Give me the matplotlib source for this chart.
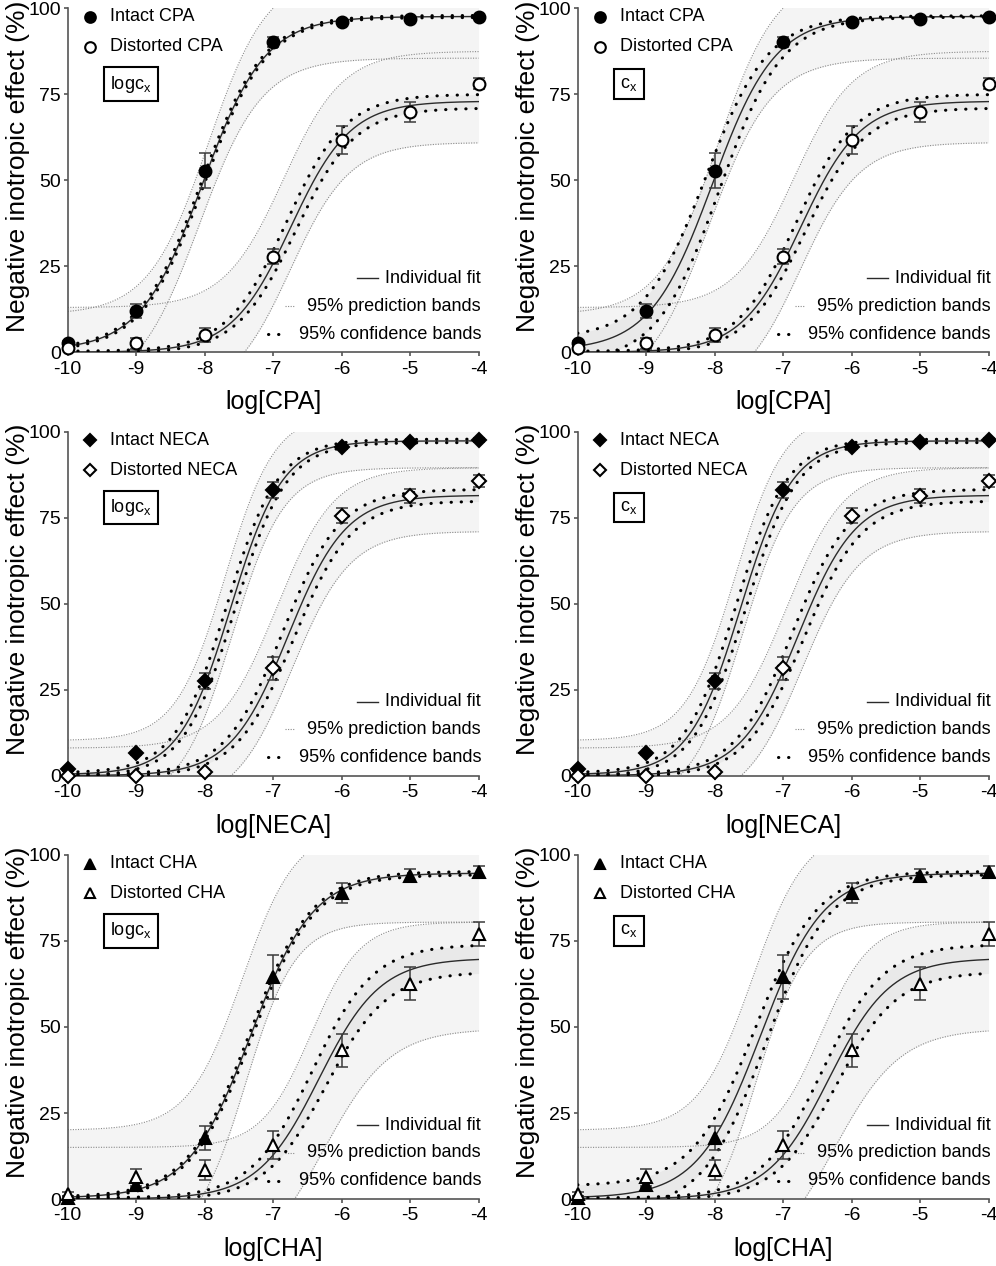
import numpy as np
import matplotlib
matplotlib.use('Agg')
import matplotlib.pyplot as plt

plt.rcParams['font.family'] = 'Liberation Sans'
plt.rcParams['axes.unicode_minus'] = False
plt.rcParams['mathtext.fontset'] = 'custom'
plt.rcParams['mathtext.rm'] = 'Liberation Sans'

# concentrations (log M)
log_conc = [-10, -9, -8, -7, -6, -5, -4]

# mean effect and error
cpa_intact = [2.8, 12.0, 52.8, 90.2, 95.9, 96.8, 97.5]
cpa_intact_err = [0.5, 2.1, 5.0, 1.5, 0.6, 0.6, 0.6]
cpa_dist = [1.4, 2.6, 5.0, 27.8, 61.7, 69.9, 78.1]
cpa_dist_err = [0.5, 1.5, 2.1, 2.1, 4.0, 2.9, 1.7]

neca_intact = [1.9, 6.5, 27.4, 83.1, 95.5, 96.9, 97.5]
neca_intact_err = [0.4, 0.5, 2.3, 2.3, 0.6, 0.5, 0.5]
neca_dist = [0.0, 0.0, 1.0, 31.2, 75.6, 81.2, 85.7]
neca_dist_err = [0.3, 0.3, 0.4, 3.4, 2.2, 2.0, 1.7]

cha_intact = [0.4, 4.1, 17.7, 64.5, 88.9, 94.0, 95.1]
cha_intact_err = [0.5, 1.0, 3.4, 6.3, 2.8, 1.8, 1.8]
cha_dist = [1.5, 6.3, 8.4, 15.7, 43.2, 62.6, 77.0]
cha_dist_err = [0.6, 2.4, 2.8, 4.1, 4.9, 4.9, 3.6]

# fitted curves: bottom, top, logEC50, hill slope
cpa_intact_fit = [0.5, 97.6, -8.03, 0.95]
cpa_dist_fit = [0.0, 73.0, -6.74, 1.0]
neca_intact_fit = [0.3, 97.3, -7.62, 1.15]
neca_dist_fit = [0.0, 81.5, -6.78, 1.03]
cha_intact_fit = [0.3, 94.7, -7.33, 0.95]
cha_dist_fit = [0.0, 70.0, -6.33, 0.97]

# 95% prediction bands (upper, lower), same form as the fit
cpa_intact_pi = [[11.0, 110.0, -7.95, 1.0], [-11.5, 85.5, -8.08, 0.95]]
cpa_dist_pi = [[13.0, 87.5, -6.85, 1.0], [-13.0, 61.0, -6.75, 1.0]]
neca_intact_pi = [[10.2, 105.5, -7.7, 1.2], [-8.0, 89.5, -7.6, 1.15]]
neca_dist_pi = [[8.0, 89.5, -6.95, 1.03], [-8.5, 71.0, -6.72, 1.03]]
cha_intact_pi = [[20.0, 108.0, -7.45, 1.1], [-13.0, 80.5, -7.4, 1.2]]
cha_dist_pi = [[15.0, 80.5, -6.45, 1.2], [-20.0, 49.5, -6.25, 0.9]]

# 95% confidence bands: spread of bottom, top, logEC50
cpa_intact_ci_log = [0.3, 0.3, 0.02]
cpa_intact_ci_lin = [3.5, 0.2, 0.1]
cpa_dist_ci = [0.3, 2.0, 0.07]
neca_intact_ci_log = [0.5, 0.5, 0.06]
neca_intact_ci_lin = [0.5, 0.5, 0.07]
neca_dist_ci = [0.3, 1.7, 0.08]
cha_intact_ci_log = [0.3, 0.5, 0.02]
cha_intact_ci_lin = [3.5, 0.5, 0.08]
cha_dist_ci = [0.3, 4.0, 0.1]

agents = ['CPA', 'NECA', 'CHA']
markers = ['o', 'D', '^']
msizes = [8.5, 7, 8]


def hill(x, p):
    b, t, l50, h = p
    return b + (t - b) / (1 + 10 ** ((l50 - x) * h))


def ci_bands(x, p, d):
    b, t, l50, h = p
    db, dt, dl = d
    hi = hill(x, [b + db, t + dt, l50 - dl, h])
    lo = hill(x, [b - db, t - dt, l50 + dl, h])
    return hi, lo


rows = [
    dict(intact=cpa_intact, ie=cpa_intact_err, dist=cpa_dist, de=cpa_dist_err,
         ifit=cpa_intact_fit, dfit=cpa_dist_fit, ipi=cpa_intact_pi, dpi=cpa_dist_pi,
         ici=[cpa_intact_ci_log, cpa_intact_ci_lin], dci=cpa_dist_ci),
    dict(intact=neca_intact, ie=neca_intact_err, dist=neca_dist, de=neca_dist_err,
         ifit=neca_intact_fit, dfit=neca_dist_fit, ipi=neca_intact_pi, dpi=neca_dist_pi,
         ici=[neca_intact_ci_log, neca_intact_ci_lin], dci=neca_dist_ci),
    dict(intact=cha_intact, ie=cha_intact_err, dist=cha_dist, de=cha_dist_err,
         ifit=cha_intact_fit, dfit=cha_dist_fit, ipi=cha_intact_pi, dpi=cha_dist_pi,
         ici=[cha_intact_ci_log, cha_intact_ci_lin], dci=cha_dist_ci),
]

fig = plt.figure(figsize=(9.96, 12.66), dpi=100)
lefts = [0.068, 0.580]
bottoms = [0.7217, 0.3873, 0.0529]
W, H = 0.4125, 0.2718

xs = np.linspace(-10, -4, 400)
pi_fill = '#f4f4f4'
ci_fill = '#e9e9e9'
dotted = (0, (0.1, 3.2))
spine_col = '#555555'

for r, (agent, row) in enumerate(zip(agents, rows)):
    for c in range(2):
        ax = fig.add_axes([lefts[c], bottoms[r], W, H])

        # prediction band fills
        for fit, pi in [(row['ifit'], row['ipi']), (row['dfit'], row['dpi'])]:
            ax.fill_between(xs, hill(xs, pi[1]), hill(xs, pi[0]), color=pi_fill, lw=0, zorder=1)
        # confidence band fills
        bands = []
        for fit, ci in [(row['ifit'], row['ici'][c]), (row['dfit'], row['dci'])]:
            hi, lo = ci_bands(xs, fit, ci)
            bands.append((hi, lo))
            ax.fill_between(xs, lo, hi, color=ci_fill, lw=0, zorder=1.5)
        # prediction band lines
        for pi in row['ipi'] + row['dpi']:
            ax.plot(xs, hill(xs, pi), color='#8a8a8a', lw=0.8, ls=(0, (1, 1.3)), zorder=2)
        # fits
        for fit in [row['ifit'], row['dfit']]:
            ax.plot(xs, hill(xs, fit), color='#2a2a2a', lw=1.0, zorder=3)
        # confidence band dots
        for hi, lo in bands:
            for yy in (hi, lo):
                ax.plot(xs, yy, color='black', lw=2.2, ls=dotted,
                        dash_capstyle='round', zorder=4)
        # data
        for ys, es, face in [(row['intact'], row['ie'], 'black'), (row['dist'], row['de'], 'white')]:
            ax.errorbar(log_conc, ys, yerr=es, fmt='none', ecolor='#3a3a3a',
                        elinewidth=1.1, capsize=4, capthick=1.1, zorder=5, clip_on=False)
            ax.plot(log_conc, ys, ls='none', marker=markers[r], ms=msizes[r],
                    mfc=face, mec='black', mew=1.5, zorder=6, clip_on=False)

        ax.set_xlim(-10, -4)
        ax.set_ylim(0, 100)
        ax.set_xticks(log_conc)
        ax.set_yticks([0, 25, 50, 75, 100])
        ax.set_yticklabels(['0', '25', '50', '75', '100'])
        ax.set_xticklabels([str(v) for v in log_conc])
        for s in ['top', 'right']:
            ax.spines[s].set_visible(False)
        for s in ['left', 'bottom']:
            ax.spines[s].set_color(spine_col)
            ax.spines[s].set_linewidth(1.2)
        ax.tick_params(direction='out', length=2.8, width=1.2, color=spine_col,
                       labelsize=14, pad=2)
        ax.tick_params(axis='x', length=3, pad=3)
        ax.set_xlabel(f'log[{agent}]', fontsize=18, labelpad=9)
        ax.set_ylabel('Negative inotropic effect (%)', fontsize=19)
        ax.yaxis.set_label_coords(-0.092, 0.542)

        # top-left legend
        ax.plot([0.054], [0.975], transform=ax.transAxes, marker=markers[r], ms=msizes[r] * 0.9,
                mfc='black', mec='black', mew=1.5, clip_on=False)
        ax.plot([0.054], [0.888], transform=ax.transAxes, marker=markers[r], ms=msizes[r] * 0.9,
                mfc='white', mec='black', mew=1.5, clip_on=False)
        ax.text(0.103, 0.975, f'Intact {agent}', transform=ax.transAxes, fontsize=13, va='center')
        ax.text(0.103, 0.888, f'Distorted {agent}', transform=ax.transAxes, fontsize=13, va='center')
        label = r'log$\mathregular{c_x}$' if c == 0 else r'$\mathregular{c_x}$'
        ax.text(0.103, 0.779, label, transform=ax.transAxes, fontsize=13, va='center',
                bbox=dict(boxstyle='square,pad=0.35', fc='white', ec='black', lw=1.5))

        # bottom-right legend
        ax.text(1.006, 0.215, 'Individual fit', transform=ax.transAxes, fontsize=13,
                va='center', ha='right')
        ax.text(1.006, 0.1345, '95% prediction bands', transform=ax.transAxes, fontsize=13,
                va='center', ha='right')
        ax.text(1.006, 0.053, '95% confidence bands', transform=ax.transAxes, fontsize=13,
                va='center', ha='right')
        ax.plot([0.704, 0.756], [0.215, 0.215], transform=ax.transAxes, color='#2a2a2a', lw=1.0)
        ax.plot([0.529, 0.553], [0.1345, 0.1345], transform=ax.transAxes, color='#8a8a8a',
                lw=0.8, ls=(0, (1, 1.3)))
        ax.plot([0.488, 0.537], [0.053, 0.053], transform=ax.transAxes, color='black',
                lw=2.2, ls=dotted, dash_capstyle='round')

fig.savefig('out.png', dpi=100)
